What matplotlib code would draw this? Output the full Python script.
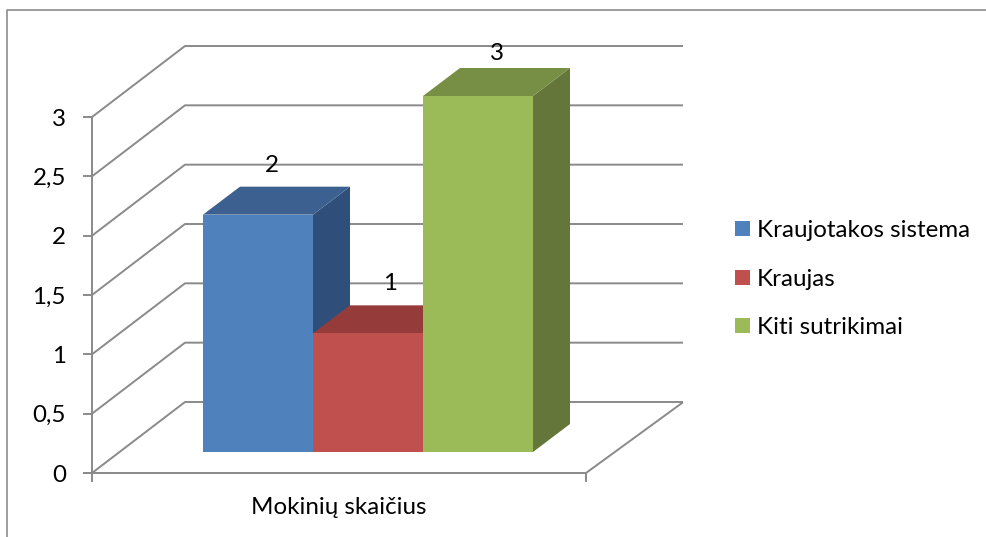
import matplotlib
matplotlib.use('Agg')
import matplotlib.pyplot as plt
from matplotlib.patches import Polygon, Rectangle

plt.rcParams['font.family'] = ['Lato', 'DejaVu Sans']

series = ['Kraujotakos sistema', 'Kraujas', 'Kiti sutrikimai']
values = [2, 1, 3]
value_ticks = [0, 0.5, 1, 1.5, 2, 2.5, 3]
value_labels = ['0', '0,5', '1', '1,5', '2', '2,5', '3']
category = 'Mokinių skaičius'

front = ['#4F81BD', '#C0504D', '#9BBB59']
top = ['#3C6190', '#953C3A', '#778F45']
side = ['#2F4F7A', '#7A302E', '#64763A']

W, H = 987, 537
GRID = '#8A8A8A'
FS = 17.4

# pixel layout of the 3d box
x0, x1 = 92, 586
y0, y3 = 473, 117
wall_dx, wall_dy = 93, 71
bar_x0, bar_w = 203, 110
bar_base = 452
bar_dx, bar_dy = 37, 28
# where the data labels sit relative to each bar's top left corner
label_dx = [69, 77, 74]
label_dy = [-51, -52, -45]


def vy(v, base=y0):
    return base - v * (y0 - y3) / 3


fig = plt.figure(figsize=(W / 100, H / 100), dpi=100)
ax = fig.add_axes([0, 0, 1, 1])
ax.set_xlim(0, W)
ax.set_ylim(H, 0)
ax.axis('off')

# chart frame
ax.plot([7, 7, W], [H, 10, 10], color='#8C8C8C', lw=1.2, zorder=1)

# gridlines, side wall and value ticks
for v, lab in zip(value_ticks, value_labels):
    y = vy(v)
    ax.plot([x0, x0 + wall_dx, 682], [y, y - wall_dy, y - wall_dy], color=GRID, lw=1.4, zorder=2)
    ax.plot([84, x0], [y, y], color=GRID, lw=1.4, zorder=2)
    ax.text(66, y, lab, ha='right', va='center_baseline', fontsize=FS, color='black')

# axis lines and floor
ax.plot([x0, x0], [y3, 481], color=GRID, lw=1.4, zorder=2)
ax.plot([84, x1, 682], [y0, y0, y0 - wall_dy + 1], color=GRID, lw=1.4, zorder=2)
ax.plot([x1, x1], [y0, 481], color=GRID, lw=1.4, zorder=2)
ax.text(339, 507, category, ha='center', va='center', fontsize=FS, color='black')

# bars, left to right so the later ones cover the earlier sides
for i, v in enumerate(values):
    l = bar_x0 + i * bar_w
    r = l + bar_w
    t = vy(v, bar_base)
    z = 3 + i
    ax.add_patch(Polygon([(r, bar_base), (r + bar_dx, bar_base - bar_dy), (r + bar_dx, t - bar_dy), (r, t)],
                         facecolor=side[i], edgecolor='none', zorder=z))
    ax.add_patch(Polygon([(l, t), (l + bar_dx, t - bar_dy), (r + bar_dx, t - bar_dy), (r, t)],
                         facecolor=top[i], edgecolor='none', zorder=z))
    ax.add_patch(Rectangle((l, t), bar_w, bar_base - t, facecolor=front[i], edgecolor='none', zorder=z))
    ax.text(l + label_dx[i], t + label_dy[i], str(v), ha='center', va='center_baseline',
            fontsize=FS, color='black', zorder=10)

# legend
for name, c, y in zip(series, front, [228.5, 277.5, 325.5]):
    ax.add_patch(Rectangle((735, y - 7.5), 15, 15, facecolor=c, edgecolor='none'))
    ax.text(757, y, name, ha='left', va='center_baseline', fontsize=FS, color='black')

fig.savefig('out.png', dpi=100)
